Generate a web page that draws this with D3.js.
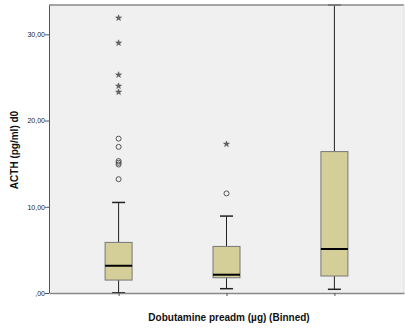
<!DOCTYPE html>
<html>
<head>
<meta charset="utf-8">
<script src="https://cdn.jsdelivr.net/npm/d3@7"></script>
<style>
  body { margin: 0; background: #fff; }
  svg { display: block; font-family: "Liberation Sans", Arial, sans-serif; }
</style>
</head>
<body>
<div id="chart"></div>
<script>
// ----- data -----
const bins = ["bin1", "bin2", "bin3"];
const binLabels = ["", "", ""];
const whiskerLow = [0.03, 0.5, 0.43];
const q1 = [1.5, 1.77, 1.97];
const median = [3.16, 2.12, 5.1];
const q3 = [5.87, 5.4, 16.4];
const whiskerHigh = [10.5, 8.92, 33.4];
// circles = outliers, stars = extreme values
const outliersBin1 = [13.2, 14.9, 15.1, 15.3, 16.95, 17.9];
const extremesBin1 = [23.3, 24.0, 25.3, 29.0, 31.9];
const outliersBin2 = [11.55];
const extremesBin2 = [17.27];
const outliersBin3 = [];
const extremesBin3 = [];
const yTicks = [0, 10, 20, 30];
const yMax = 33.4;

const outliers = [outliersBin1, outliersBin2, outliersBin3];
const extremes = [extremesBin1, extremesBin2, extremesBin3];

// ----- layout -----
const width = 405, height = 328;
const margin = {top: 5, right: 1, bottom: 35, left: 49};
const plotW = width - margin.left - margin.right;
const plotH = height - margin.top - margin.bottom;

const svg = d3.select("#chart").append("svg")
    .attr("width", width)
    .attr("height", height);

const g = svg.append("g")
    .attr("transform", `translate(${margin.left},${margin.top})`);

const x = d3.scalePoint().domain(bins).range([0, plotW]).padding(0.645);
const y = d3.scaleLinear().domain([0, yMax]).range([plotH, 0]);

const fmt = v => v === 0 ? ",00" : d3.format(".2f")(v).replace(".", ",");

// plot background
g.append("rect")
    .attr("width", plotW)
    .attr("height", plotH)
    .attr("fill", "#f0f0f0");

// clip for marks
svg.append("defs").append("clipPath").attr("id", "clip")
  .append("rect").attr("x", 0).attr("y", -1).attr("width", plotW).attr("height", plotH + 2);

const boxW = 27, capW = 13;
const marks = g.append("g").attr("clip-path", "url(#clip)");

bins.forEach((b, i) => {
    const cx = x(b);
    const grp = marks.append("g");
    // whiskers
    grp.append("line")
        .attr("x1", cx).attr("x2", cx)
        .attr("y1", y(whiskerLow[i])).attr("y2", y(q1[i]))
        .attr("stroke", "#222").attr("stroke-width", 1);
    grp.append("line")
        .attr("x1", cx).attr("x2", cx)
        .attr("y1", y(q3[i])).attr("y2", y(whiskerHigh[i]))
        .attr("stroke", "#222").attr("stroke-width", 1);
    [whiskerLow[i], whiskerHigh[i]].forEach(v => {
        grp.append("line")
            .attr("x1", cx - capW / 2).attr("x2", cx + capW / 2)
            .attr("y1", y(v)).attr("y2", y(v))
            .attr("stroke", "#222").attr("stroke-width", 1.5);
    });
    // box
    grp.append("rect")
        .attr("x", cx - boxW / 2)
        .attr("y", y(q3[i]))
        .attr("width", boxW)
        .attr("height", y(q1[i]) - y(q3[i]))
        .attr("fill", "#d4cf99")
        .attr("stroke", "#777")
        .attr("stroke-width", 1);
    // median
    grp.append("line")
        .attr("x1", cx - boxW / 2).attr("x2", cx + boxW / 2)
        .attr("y1", y(median[i])).attr("y2", y(median[i]))
        .attr("stroke", "#000").attr("stroke-width", 2);
    // outliers
    grp.selectAll("circle.out").data(outliers[i]).join("circle")
        .attr("class", "out")
        .attr("cx", cx).attr("cy", d => y(d))
        .attr("r", 2.5)
        .attr("fill", "none")
        .attr("stroke", "#555")
        .attr("stroke-width", 1);
    // extremes
    grp.selectAll("path.ext").data(extremes[i]).join("path")
        .attr("class", "ext")
        .attr("transform", d => `translate(${cx},${y(d)})`)
        .attr("d", d3.symbol(d3.symbolStar, 11))
        .attr("fill", "#666")
        .attr("stroke", "#444")
        .attr("stroke-width", 0.5);
});

// frame: top and right borders
g.append("line")
    .attr("x1", 0).attr("x2", plotW).attr("y1", 0).attr("y2", 0)
    .attr("stroke", "#888").attr("stroke-width", 1.5);
g.append("line")
    .attr("x1", plotW).attr("x2", plotW).attr("y1", 0).attr("y2", plotH)
    .attr("stroke", "#ddd").attr("stroke-width", 1);

// y axis
const yAxis = g.append("g")
    .call(d3.axisLeft(y).tickValues(yTicks).tickFormat(fmt).tickSize(4).tickSizeOuter(0));
yAxis.select(".domain").attr("stroke", "#555");
yAxis.selectAll(".tick line").attr("stroke", "#555");
yAxis.selectAll(".tick text")
    .attr("font-size", 7)
    .attr("fill", "#222")
    .attr("x", -4);

// x axis
const xAxis = g.append("g")
    .attr("transform", `translate(0,${plotH})`)
    .call(d3.axisBottom(x).tickFormat((d, i) => binLabels[i]).tickSize(3).tickSizeOuter(0));
xAxis.select(".domain").attr("stroke", "#888").attr("stroke-width", 1.5);
xAxis.selectAll(".tick line").attr("stroke", "#555");

// titles
svg.append("text")
    .attr("transform", `translate(18,150) rotate(-90)`)
    .attr("text-anchor", "middle")
    .attr("font-size", 10)
    .attr("font-weight", "bold")
    .attr("fill", "#111")
    .text("ACTH (pg/ml) d0");

svg.append("text")
    .attr("x", 229)
    .attr("y", 321)
    .attr("text-anchor", "middle")
    .attr("font-size", 10)
    .attr("font-weight", "bold")
    .attr("fill", "#111")
    .text("Dobutamine preadm (µg) (Binned)");
</script>
</body>
</html>
